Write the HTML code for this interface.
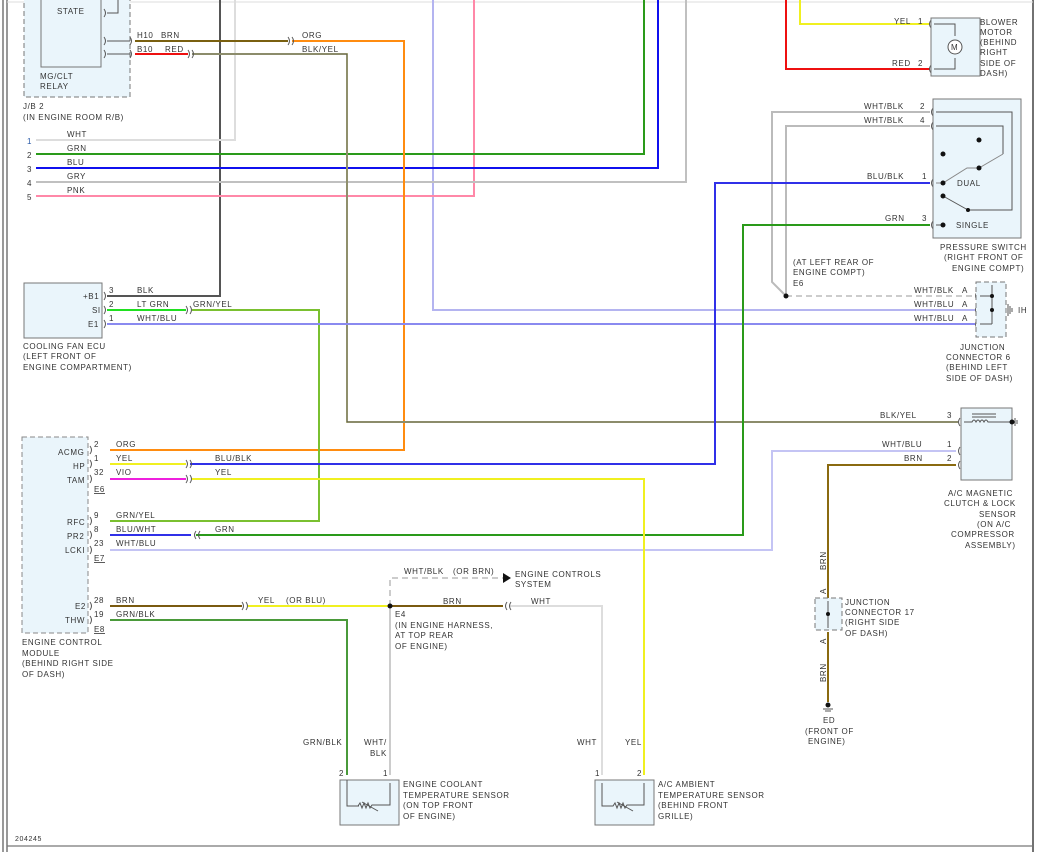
<!DOCTYPE html>
<html><head><meta charset="utf-8"><style>
html,body{margin:0;padding:0;background:#fff;}
svg{display:block;}
text{font-family:"Liberation Sans",sans-serif;font-size:8px;fill:#333;letter-spacing:0.6px;}
.n{fill:#2a5aa8;}
</style></head><body>
<svg width="1051" height="852" viewBox="0 0 1051 852" xmlns="http://www.w3.org/2000/svg">
<!-- frame -->
<line x1="3" y1="0" x2="3" y2="852" stroke="#555" stroke-width="1.2"/>
<line x1="7" y1="0" x2="7" y2="852" stroke="#555" stroke-width="1.2"/>
<line x1="1033" y1="0" x2="1033" y2="852" stroke="#444" stroke-width="1.5"/>
<line x1="7" y1="2" x2="1033" y2="2" stroke="#ddd" stroke-width="1"/>
<line x1="7" y1="846" x2="1033" y2="846" stroke="#777" stroke-width="1.2"/>

<g fill="none" stroke-width="2">
<!-- vertical top wires -->
<polyline points="220,0 220,296 107,296" stroke="#555"/>
<polyline points="235,0 235,140 36,140" stroke="#ddd"/>
<polyline points="433,0 433,310 975,310" stroke="#b4b4f0"/>
<polyline points="474,0 474,196 36,196" stroke="#ff88a8"/>
<polyline points="644,0 644,154 36,154" stroke="#2a9a1a"/>
<polyline points="658,0 658,168 36,168" stroke="#1010ee"/>
<polyline points="686,0 686,182 36,182" stroke="#c0c0c0"/>
<polyline points="800,0 800,24 930,24" stroke="#f0f020"/>
<polyline points="786,0 786,69 930,69" stroke="#ee1010"/>
<!-- JB2 outputs -->
<line x1="135" y1="41" x2="288" y2="41" stroke="#7a6010"/>
<polyline points="292,41 404,41 404,450 110,450" stroke="#ff8c10"/>
<line x1="135" y1="54" x2="188" y2="54" stroke="#ee1010"/>
<polyline points="192,54 347,54 347,422 958,422" stroke="#e8e890"/>
<polyline points="192,54 347,54 347,422 958,422" stroke="#555" stroke-width="1.2"/>
<!-- cooling fan -->
<line x1="107" y1="310" x2="186" y2="310" stroke="#20e020"/>
<polyline points="192,310 319,310 319,521 110,521" stroke="#7ac030"/>
<line x1="107" y1="324" x2="975" y2="324" stroke="#8a8af0"/>
<!-- pressure switch -->
<polyline points="930,112 772,112 772,282 786,296" stroke="#bbb"/>
<polyline points="930,126 786,126 786,296" stroke="#bbb"/>
<polyline points="930,183 715,183 715,464 190,464" stroke="#3030e8"/>
<line x1="110" y1="464" x2="186" y2="464" stroke="#f0f020"/>
<polyline points="930,225 743,225 743,535 196,535" stroke="#2a9a1a"/>
<line x1="110" y1="535" x2="191" y2="535" stroke="#3030e8"/>
<!-- A/C clutch -->
<polyline points="956,451 772,451 772,550 110,550" stroke="#c4c4f4"/>
<polyline points="956,465 828,465 828,598" stroke="#8a6a10"/>
<line x1="828" y1="632" x2="828" y2="702" stroke="#8a6a10"/>
<!-- TAM -->
<line x1="110" y1="479" x2="186" y2="479" stroke="#ee20dd"/>
<polyline points="192,479 644,479 644,775" stroke="#f0f020"/>
<!-- E2 -->
<line x1="110" y1="606" x2="242" y2="606" stroke="#7a5a10"/>
<line x1="248" y1="606" x2="390" y2="606" stroke="#f0f020"/>
<line x1="390" y1="606" x2="503" y2="606" stroke="#7a5a10"/>
<polyline points="510,606 602,606 602,775" stroke="#ddd"/>
<line x1="390" y1="606" x2="390" y2="775" stroke="#ccc"/>
<polyline points="390,606 390,578 503,578" stroke="#ccc" stroke-dasharray="6,4"/>
<polyline points="110,620 347,620 347,775" stroke="#4a9a3a"/>
<line x1="786" y1="296" x2="975" y2="296" stroke="#ccc" stroke-dasharray="6,4"/>
</g>
<polygon points="503,573 511,578 503,583" fill="#111"/>
<circle cx="390" cy="606" r="2.5" fill="#111"/>
<circle cx="786" cy="296" r="2.5" fill="#111"/>

<!-- JB2 -->
<rect x="24" y="-2" width="106" height="99" fill="#eaf5fb" stroke="#777" stroke-dasharray="5,3"/>
<rect x="41" y="-2" width="60" height="69" fill="#eaf5fb" stroke="#777"/>
<text x="57" y="14">STATE</text>
<polyline points="107,13 118,13 118,0" fill="none" stroke="#555"/>
<line x1="107" y1="41" x2="130" y2="41" stroke="#555"/>
<line x1="107" y1="54" x2="130" y2="54" stroke="#555"/>
<text x="40" y="79">MG/CLT</text><text x="40" y="89">RELAY</text>
<text x="23" y="109">J/B 2</text><text x="23" y="120">(IN ENGINE ROOM R/B)</text>
<text x="137" y="38">H10</text><text x="161" y="38">BRN</text>
<text x="137" y="52">B10</text><text x="165" y="52">RED</text>
<text x="302" y="38">ORG</text><text x="302" y="52">BLK/YEL</text>
<text x="27" y="144" class="n">1</text><text x="67" y="137">WHT</text>
<text x="27" y="158">2</text><text x="67" y="151">GRN</text>
<text x="27" y="172">3</text><text x="67" y="165">BLU</text>
<text x="27" y="186">4</text><text x="67" y="179">GRY</text>
<text x="27" y="200">5</text><text x="67" y="193">PNK</text>

<!-- cooling fan ECU -->
<rect x="24" y="283" width="78" height="55" fill="#eaf5fb" stroke="#777"/>
<text x="83" y="299">+B1</text><text x="92" y="313">SI</text><text x="88" y="327">E1</text>
<text x="109" y="293">3</text><text x="137" y="293">BLK</text>
<text x="109" y="307">2</text><text x="137" y="307">LT GRN</text><text x="193" y="307">GRN/YEL</text>
<text x="109" y="321">1</text><text x="137" y="321">WHT/BLU</text>
<text x="23" y="349">COOLING FAN ECU</text><text x="23" y="359">(LEFT FRONT OF</text><text x="23" y="370">ENGINE COMPARTMENT)</text>

<!-- ECM -->
<rect x="22" y="437" width="66" height="196" fill="#eaf5fb" stroke="#888" stroke-dasharray="5,3"/>
<text x="58" y="455">ACMG</text><text x="73" y="469">HP</text><text x="67" y="483">TAM</text>
<text x="67" y="525">RFC</text><text x="67" y="539">PR2</text><text x="65" y="553">LCKI</text>
<text x="75" y="609">E2</text><text x="65" y="623">THW</text>
<text x="94" y="447">2</text><text x="116" y="447">ORG</text>
<text x="94" y="461">1</text><text x="116" y="461">YEL</text><text x="215" y="461">BLU/BLK</text>
<text x="94" y="475">32</text><text x="116" y="475">VIO</text><text x="215" y="475">YEL</text>
<text x="94" y="492" text-decoration="underline">E6</text>
<text x="94" y="518">9</text><text x="116" y="518">GRN/YEL</text>
<text x="94" y="532">8</text><text x="116" y="532">BLU/WHT</text><text x="215" y="532">GRN</text>
<text x="94" y="546">23</text><text x="116" y="546">WHT/BLU</text>
<text x="94" y="561" text-decoration="underline">E7</text>
<text x="94" y="603">28</text><text x="116" y="603">BRN</text><text x="258" y="603">YEL</text><text x="286" y="603">(OR BLU)</text>
<text x="94" y="617">19</text><text x="116" y="617">GRN/BLK</text>
<text x="94" y="632" text-decoration="underline">E8</text>
<text x="22" y="645">ENGINE CONTROL</text><text x="22" y="656">MODULE</text><text x="22" y="666">(BEHIND RIGHT SIDE</text><text x="22" y="677">OF DASH)</text>
<!-- connector marks -->
<g fill="none" stroke="#555" stroke-width="1">
<path d="M288,37 q3,4 0,8 M292,37 q3,4 0,8"/>
<path d="M188,50 q3,4 0,8 M192,50 q3,4 0,8"/>
<path d="M186,306 q3,4 0,8 M190,306 q3,4 0,8"/>
<path d="M186,460 q3,4 0,8 M190,460 q3,4 0,8"/>
<path d="M186,475 q3,4 0,8 M190,475 q3,4 0,8"/>
<path d="M196,531 q-3,4 0,8 M200,531 q-3,4 0,8"/>
<path d="M242,602 q3,4 0,8 M246,602 q3,4 0,8"/>
<path d="M507,602 q-3,4 0,8 M511,602 q-3,4 0,8"/>
<path d="M130,37 q3,4 0,8 M130,50 q3,4 0,8 M104,9 q3,4 0,8 M104,37 q3,4 0,8 M104,50 q3,4 0,8"/>
<path d="M104,292 q3,4 0,8 M104,306 q3,4 0,8 M104,320 q3,4 0,8"/>
<path d="M90,446 q3,4 0,8 M90,460 q3,4 0,8 M90,475 q3,4 0,8 M90,517 q3,4 0,8 M90,531 q3,4 0,8 M90,546 q3,4 0,8 M90,602 q3,4 0,8 M90,616 q3,4 0,8"/>
<path d="M931,20 q-3,4 0,8 M931,65 q-3,4 0,8 M933,108 q-3,4 0,8 M933,122 q-3,4 0,8 M933,179 q-3,4 0,8 M933,221 q-3,4 0,8"/>
<path d="M977,292 q-3,4 0,8 M977,306 q-3,4 0,8 M977,320 q-3,4 0,8"/>
<path d="M960,418 q-3,4 0,8 M960,447 q-3,4 0,8 M960,461 q-3,4 0,8"/>
</g>
<!-- E4 labels -->
<text x="404" y="574">WHT/BLK</text><text x="453" y="574">(OR BRN)</text>
<text x="515" y="577">ENGINE CONTROLS</text><text x="515" y="587">SYSTEM</text>
<text x="443" y="604">BRN</text><text x="531" y="604">WHT</text>
<text x="395" y="617">E4</text><text x="395" y="628">(IN ENGINE HARNESS,</text><text x="395" y="638">AT TOP REAR</text><text x="395" y="649">OF ENGINE)</text>

<!-- coolant sensor -->
<text x="303" y="745">GRN/BLK</text><text x="364" y="745">WHT/</text><text x="370" y="756">BLK</text>
<text x="339" y="776">2</text><text x="383" y="776">1</text>
<rect x="340" y="780" width="59" height="45" fill="#eaf5fb" stroke="#777"/>
<polyline points="347,780 347,806 359,806 M" fill="none" stroke="#555"/>
<path d="M347,783 V806 H358 l2,-3 2,5 2,-5 2,5 2,-5 2,5 2,-3 H390 V783" fill="none" stroke="#555"/>
<line x1="362" y1="802" x2="378" y2="811" stroke="#555"/>
<text x="403" y="787">ENGINE COOLANT</text><text x="403" y="798">TEMPERATURE SENSOR</text><text x="403" y="808">(ON TOP FRONT</text><text x="403" y="819">OF ENGINE)</text>
<!-- ambient sensor -->
<text x="577" y="745">WHT</text><text x="625" y="745">YEL</text>
<text x="595" y="776">1</text><text x="637" y="776">2</text>
<rect x="595" y="780" width="59" height="45" fill="#eaf5fb" stroke="#777"/>
<path d="M602,783 V806 H613 l2,-3 2,5 2,-5 2,5 2,-5 2,5 2,-3 H644 V783" fill="none" stroke="#555"/>
<line x1="617" y1="802" x2="633" y2="811" stroke="#555"/>
<text x="658" y="787">A/C AMBIENT</text><text x="658" y="798">TEMPERATURE SENSOR</text><text x="658" y="808">(BEHIND FRONT</text><text x="658" y="819">GRILLE)</text>
<text x="15" y="841" style="font-size:7px">204245</text>

<!-- blower motor -->
<rect x="931" y="18" width="49" height="58" fill="#eaf5fb" stroke="#777"/>
<polyline points="934,24 955,24 955,36" fill="none" stroke="#555"/>
<polyline points="934,69 955,69 955,58" fill="none" stroke="#555"/>
<circle cx="955" cy="47" r="7" fill="#fff" stroke="#555"/>
<text x="951" y="50" style="font-size:8px">M</text>
<text x="894" y="24">YEL</text><text x="918" y="24">1</text>
<text x="892" y="66">RED</text><text x="918" y="66">2</text>
<text x="980" y="25">BLOWER</text><text x="980" y="35">MOTOR</text><text x="980" y="45">(BEHIND</text><text x="980" y="55">RIGHT</text><text x="980" y="66">SIDE OF</text><text x="980" y="76">DASH)</text>

<!-- pressure switch -->
<rect x="933" y="99" width="88" height="139" fill="#eaf5fb" stroke="#777"/>
<g fill="none" stroke="#555" stroke-width="1">
<polyline points="936,112 1012,112 1012,210 968,210"/>
<polyline points="936,126 1003,126 1003,154"/>
<polyline points="1003,154 979,168 967,168 943,183 936,183" stroke="#888"/>
<line x1="943" y1="196" x2="968" y2="210"/>
<line x1="936" y1="225" x2="943" y2="225"/>
</g>
<g fill="#111"><circle cx="979" cy="140" r="2.5"/><circle cx="943" cy="154" r="2.5"/><circle cx="979" cy="168" r="2.5"/><circle cx="943" cy="183" r="2.5"/><circle cx="943" cy="196" r="2.5"/><circle cx="968" cy="210" r="2"/><circle cx="943" cy="225" r="2.5"/></g>
<text x="957" y="186">DUAL</text><text x="956" y="228">SINGLE</text>
<text x="864" y="109">WHT/BLK</text><text x="920" y="109">2</text>
<text x="864" y="123">WHT/BLK</text><text x="920" y="123">4</text>
<text x="867" y="179">BLU/BLK</text><text x="922" y="179">1</text>
<text x="885" y="221">GRN</text><text x="922" y="221">3</text>
<text x="940" y="250">PRESSURE SWITCH</text><text x="944" y="260">(RIGHT FRONT OF</text><text x="952" y="271">ENGINE COMPT)</text>
<text x="793" y="265">(AT LEFT REAR OF</text><text x="793" y="275">ENGINE COMPT)</text><text x="793" y="286">E6</text>

<!-- junction connector 6 -->
<rect x="976" y="282" width="30" height="55" fill="#eaf5fb" stroke="#777" stroke-dasharray="5,3"/>
<g fill="none" stroke="#555"><polyline points="980,296 992,296 M980,310 1006,310 M980,324 992,324"/><line x1="992" y1="285" x2="992" y2="324"/><path d="M980,296h12M980,324h12"/><path d="M1008,304v12M1010,306v8M1012,308v4"/></g>
<g fill="#111"><circle cx="992" cy="296" r="2"/><circle cx="992" cy="310" r="2"/></g>
<text x="914" y="293">WHT/BLK</text><text x="962" y="293">A</text>
<text x="914" y="307">WHT/BLU</text><text x="962" y="307">A</text>
<text x="914" y="321">WHT/BLU</text><text x="962" y="321">A</text>
<text x="1018" y="313">IH</text>
<text x="960" y="350">JUNCTION</text><text x="946" y="360">CONNECTOR 6</text><text x="946" y="370">(BEHIND LEFT</text><text x="946" y="381">SIDE OF DASH)</text>

<!-- A/C clutch -->
<rect x="961" y="408" width="51" height="72" fill="#eaf5fb" stroke="#777"/>
<path d="M964,422 H972 q2,-4 4,0 q2,-4 4,0 q2,-4 4,0 q2,-4 4,0 H1012" fill="none" stroke="#555"/>
<line x1="972" y1="414" x2="996" y2="414" stroke="#555"/><line x1="972" y1="417" x2="996" y2="417" stroke="#555"/>
<circle cx="1012" cy="422" r="2.5" fill="#111"/>
<path d="M1015,418v8M1017,420v4" stroke="#555"/>
<text x="880" y="418">BLK/YEL</text><text x="947" y="418">3</text>
<text x="882" y="447">WHT/BLU</text><text x="947" y="447">1</text>
<text x="904" y="461">BRN</text><text x="947" y="461">2</text>
<text x="948" y="496">A/C MAGNETIC</text><text x="944" y="506">CLUTCH &amp; LOCK</text><text x="979" y="517">SENSOR</text><text x="977" y="527">(ON A/C</text><text x="951" y="537">COMPRESSOR</text><text x="965" y="548">ASSEMBLY)</text>

<!-- junction 17 -->
<rect x="815" y="598" width="27" height="32" fill="#eaf5fb" stroke="#777" stroke-dasharray="5,3"/>
<line x1="828" y1="601" x2="828" y2="628" stroke="#555"/>
<circle cx="828" cy="614" r="2" fill="#111"/>
<text x="826" y="570" transform="rotate(-90 826 570)">BRN</text>
<text x="826" y="594" transform="rotate(-90 826 594)">A</text>
<text x="826" y="644" transform="rotate(-90 826 644)">A</text>
<text x="826" y="682" transform="rotate(-90 826 682)">BRN</text>
<text x="845" y="605">JUNCTION</text><text x="845" y="615">CONNECTOR 17</text><text x="845" y="625">(RIGHT SIDE</text><text x="845" y="636">OF DASH)</text>
<circle cx="828" cy="705" r="2.5" fill="#111"/>
<path d="M823,709h10M825,711h6" stroke="#555"/>
<text x="823" y="723">ED</text><text x="805" y="734">(FRONT OF</text><text x="808" y="744">ENGINE)</text>
</svg>
</body></html>
